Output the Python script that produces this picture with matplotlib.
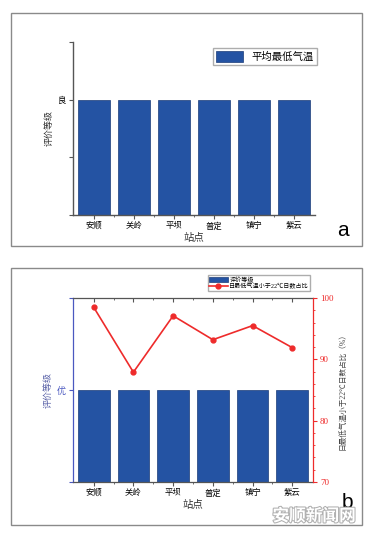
import numpy as np
import matplotlib
matplotlib.use("Agg")
import matplotlib.pyplot as plt
from matplotlib.patches import Rectangle
from matplotlib.ticker import FixedLocator, MultipleLocator
import matplotlib.patheffects as pe

plt.rcParams['font.family'] = ['Liberation Serif', 'Noto Sans CJK SC', 'DejaVu Sans']

# data
stations = ['安顺', '关岭', '平坝', '普定', '镇宁', '紫云']
grade_a = [2, 2, 2, 2, 2, 2]          # 良
grade_a_ticks = [0, 1, 2, 3]
grade_a_labels = ['', '', '良', '']
grade_b = [1, 1, 1, 1, 1, 1]          # 优
grade_b_ticks = [0, 1, 2]
grade_b_labels = ['', '优', '']
pct_below22 = [98.5, 87.9, 97.1, 93.2, 95.5, 91.9]

bar_color = '#2453a3'
red = '#ee2b2b'
blue = '#4a58c0'
spine = '#555555'

fig = plt.figure(figsize=(3.73, 5.33), dpi=100)

# panel borders
for y0, y1 in [(13, 246), (268, 525)]:
    fig.add_artist(Rectangle((11 / 373, 1 - y1 / 533), 351 / 373, (y1 - y0) / 533,
                             transform=fig.transFigure, fill=False,
                             edgecolor='#8a8a8a', lw=1.0))

x = np.arange(len(stations))

# ---- panel a ----
ax = fig.add_axes([73 / 373, 1 - 215 / 533, 242 / 373, 173 / 533])
ax.bar(x, grade_a, width=0.8, color=bar_color, edgecolor='#1b3b78', lw=0.5,
       label='平均最低气温')
ax.set_xlim(-0.52, 5.52)
ax.set_ylim(0, 3)
ax.set_yticks(grade_a_ticks, grade_a_labels, fontsize=6)
ax.set_xticks(x, stations, fontsize=6)
ax.xaxis.set_minor_locator(FixedLocator(x[:-1] + 0.5))
ax.tick_params(which='major', length=3, width=0.8, color=spine, pad=2)
ax.tick_params(which='minor', length=1.5, width=0.6, color=spine)
for s in ['top', 'right']:
    ax.spines[s].set_visible(False)
for s in ['left', 'bottom']:
    ax.spines[s].set_color(spine)
    ax.spines[s].set_linewidth(1.0)
ax.set_xlabel('站点', fontsize=7.5, labelpad=2, color='#333333')
ax.set_ylabel('评价等级', fontsize=6.5, labelpad=3, color='#333333')
ax.legend(loc='upper left', bbox_to_anchor=(0.578, 0.965), borderaxespad=0,
          fontsize=7.5, frameon=True, fancybox=False, edgecolor='#999999',
          handlelength=2.6, handleheight=1.2, borderpad=0.3)
fig.text(343 / 373, 1 - 230 / 533, 'a', fontsize=15, family='Liberation Sans',
         ha='center', va='center')

# ---- panel b ----
ax2 = fig.add_axes([73 / 373, 1 - 482 / 533, 240 / 373, 184 / 533])
b = ax2.bar(x, grade_b, width=0.8, color=bar_color, edgecolor='#1b3b78', lw=0.5,
            label='评价等级')
ax2.set_xlim(-0.52, 5.52)
ax2.set_ylim(0, 2)
ax2.set_yticks(grade_b_ticks, grade_b_labels, fontsize=6.5, color=blue)
ax2.set_xticks(x, stations, fontsize=6)
ax2.xaxis.set_minor_locator(FixedLocator(x[:-1] + 0.5))
ax2.tick_params(axis='x', which='major', length=3, width=0.8, color=spine, pad=2)
ax2.tick_params(axis='x', which='minor', length=1.5, width=0.6, color=spine)
ax2.tick_params(axis='y', length=3, width=0.8, color=blue, pad=2)
ax2.spines['left'].set_color(blue)
ax2.spines['bottom'].set_color(spine)
ax2.spines['top'].set_color(spine)
ax2.spines['right'].set_visible(False)
for s in ax2.spines.values():
    s.set_linewidth(0.9)
ax2.set_xlabel('站点', fontsize=7.5, labelpad=2, color='#333333')
ax2.set_ylabel('评价等级', fontsize=6.5, labelpad=3, color='#5a62a8')

top = ax2.secondary_xaxis('top')
top.set_xticks(x, [''] * len(x))
top.xaxis.set_minor_locator(FixedLocator(x[:-1] + 0.5))
top.tick_params(which='major', direction='in', length=3, width=0.8, color=spine)
top.tick_params(which='minor', direction='in', length=1.5, width=0.6, color=spine)
top.spines['top'].set_visible(False)

axr = ax2.twinx()
ln, = axr.plot(x, pct_below22, color=red, lw=1.2, marker='o', ms=3.5,
               label='日最低气温小于22℃日数占比')
axr.set_ylim(70, 100)
axr.set_yticks([70, 80, 90, 100])
axr.yaxis.set_minor_locator(MultipleLocator(2))
axr.tick_params(axis='y', which='major', length=3, width=0.8, colors=red,
                labelsize=6.5, pad=2)
axr.tick_params(axis='y', which='minor', length=1.5, width=0.6, color=red)
for s in ['left', 'top', 'bottom']:
    axr.spines[s].set_visible(False)
axr.spines['right'].set_color(red)
axr.spines['right'].set_linewidth(0.9)
axr.set_ylabel('日最低气温小于22℃日数占比（%）', fontsize=5.5, color='#444444',
               labelpad=4)

fig.legend([b, ln], ['评价等级', '日最低气温小于22℃日数占比'], loc='upper left',
           bbox_to_anchor=(208 / 373, 1 - 275 / 533), borderaxespad=0,
           fontsize=4.4, frameon=True, fancybox=False, edgecolor='#999999',
           handlelength=3.0, borderpad=0.2, labelspacing=0.1, handletextpad=0.3)

fig.text(347 / 373, 1 - 503 / 533, 'b', fontsize=15, family='Liberation Sans',
         ha='center', va='center')
fig.text(314 / 373, 1 - 516 / 533, '安顺新闻网', fontsize=12, fontweight='bold',
         family=['Noto Sans CJK SC'], color='white', ha='center', va='center',
         path_effects=[pe.withStroke(linewidth=1.5, foreground='#b0b0b0')])

fig.savefig('out.png', dpi=100)
